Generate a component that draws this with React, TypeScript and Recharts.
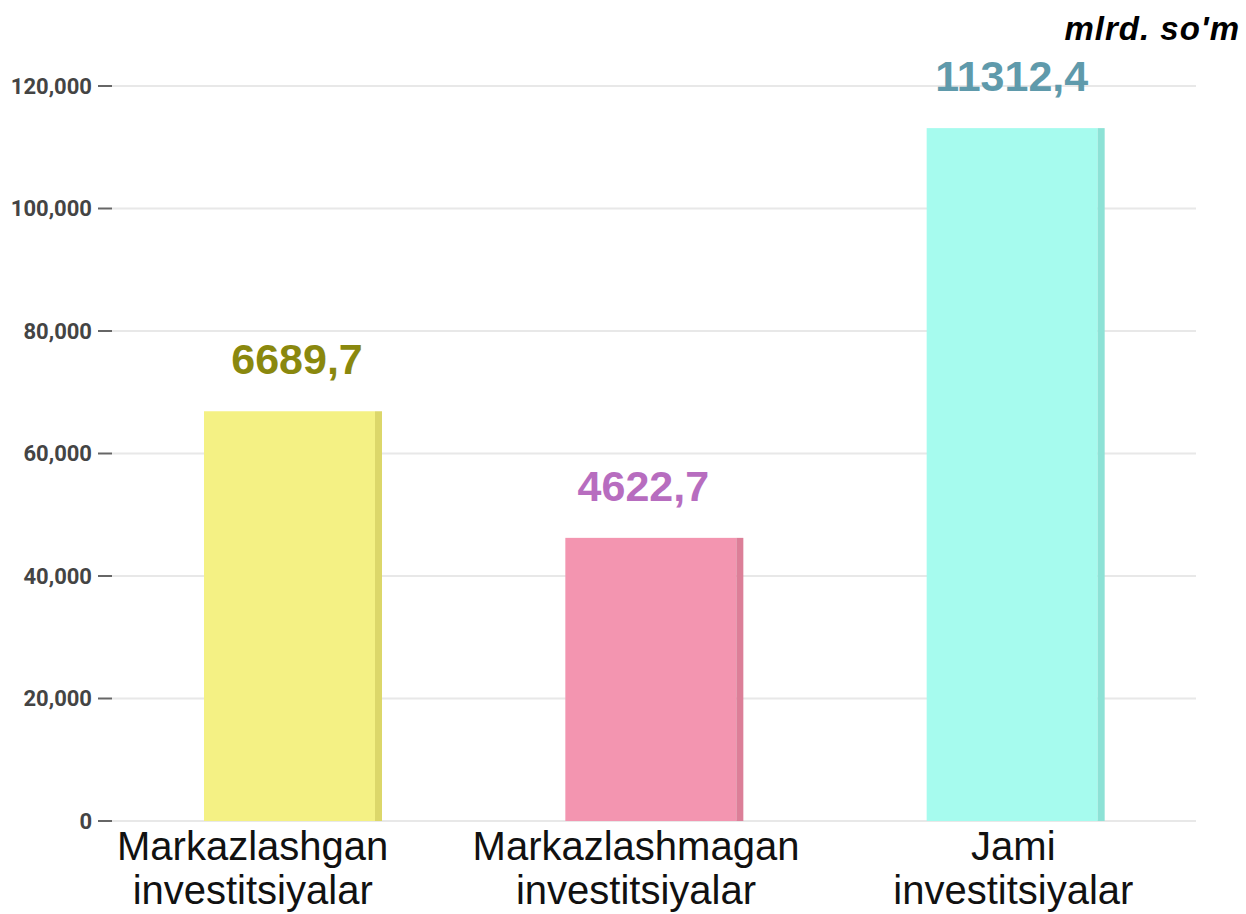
import React from 'react';
import { BarChart, Bar, XAxis, YAxis, CartesianGrid, LabelList } from 'recharts';

// Kategoriyalar va qiymatlar (o'q shkalasi bo'yicha)
const categories = ['Markazlashgan investitsiyalar', 'Markazlashmagan investitsiyalar', 'Jami investitsiyalar'];
const values = [66897, 46227, 113124];
const valueLabels = ['6689,7', '4622,7', '11312,4'];
const yTicks = [0, 20000, 40000, 60000, 80000, 100000, 120000];

const FRONT = ['#f4f184', '#f395b0', '#a6fbee'];
const SIDE = ['#dcd76a', '#dc7f98', '#8de2d6'];
const LABEL_COLORS = ['#8a880e', '#b76dbf', '#5f9aab'];
// perspektiva tufayli yozuvlar biroz chapga siljigan
const TICK_NUDGE = [-40, -18, -2];
const LABEL_NUDGE = [4, -11, -4];

const data = categories.map((name, i) => ({ name, value: values[i], label: valueLabels[i] }));

const BarShape = (props: any) => {
  const { x, y, width, height, index } = props;
  const side = 7;
  return (
    <g>
      <rect x={x} y={y} width={width - side} height={height} fill={FRONT[index]} />
      <rect x={x + width - side} y={y} width={side} height={height} fill={SIDE[index]} />
    </g>
  );
};

const CategoryTick = (props: any) => {
  const { x, y, payload, index } = props;
  const words = String(payload.value).split(' ');
  const cx = x + (TICK_NUDGE[index] || 0);
  return (
    <text
      x={cx}
      y={y}
      textAnchor="middle"
      fill="#111"
      style={{ fontFamily: '"Liberation Sans", Arial, sans-serif', fontSize: 40 }}
    >
      {words.map((w, i) => (
        <tspan key={i} x={cx} dy={i === 0 ? 31 : 44}>
          {w}
        </tspan>
      ))}
    </text>
  );
};

const ValueLabel = (props: any) => {
  const { x, y, width, index, value } = props;
  return (
    <text
      x={x + width / 2 + (LABEL_NUDGE[index] || 0)}
      y={y - 37}
      textAnchor="middle"
      fill={LABEL_COLORS[index]}
      style={{ fontFamily: '"Liberation Sans", Arial, sans-serif', fontSize: 43, fontWeight: 'bold' }}
    >
      {value}
    </text>
  );
};

export default function App() {
  return (
    <div style={{ position: 'absolute', left: 0, top: 0, width: 1246, height: 914, background: '#fff' }}>
      <div
        style={{
          position: 'absolute',
          right: 6,
          top: 10,
          fontFamily: '"Liberation Sans", Arial, sans-serif',
          fontSize: 33,
          letterSpacing: 1,
          fontWeight: 'bold',
          fontStyle: 'italic',
          color: '#000',
        }}
      >
        mlrd. so'm
      </div>
      <BarChart
        width={1246}
        height={914}
        data={data}
        margin={{ top: 86, right: 50, left: 0, bottom: 0 }}
        barSize={178}
      >
        <CartesianGrid vertical={false} stroke="#e8e8e8" strokeWidth={2} />
        <XAxis
          dataKey="name"
          axisLine={false}
          tickLine={false}
          height={93}
          interval={0}
          tick={<CategoryTick />}
        />
        <YAxis
          width={112}
          domain={[0, 120000]}
          ticks={yTicks}
          axisLine={false}
          tickSize={14}
          tickMargin={6}
          tickLine={{ stroke: '#666', strokeWidth: 2 }}
          tickFormatter={(v: number) => v.toLocaleString('en-US')}
          tick={{ fill: '#444', fontSize: 22, fontWeight: 'bold', fontFamily: 'Roboto, sans-serif' }}
        />
        <Bar dataKey="value" shape={<BarShape />} isAnimationActive={false}>
          <LabelList dataKey="label" content={<ValueLabel />} />
        </Bar>
      </BarChart>
    </div>
  );
}
